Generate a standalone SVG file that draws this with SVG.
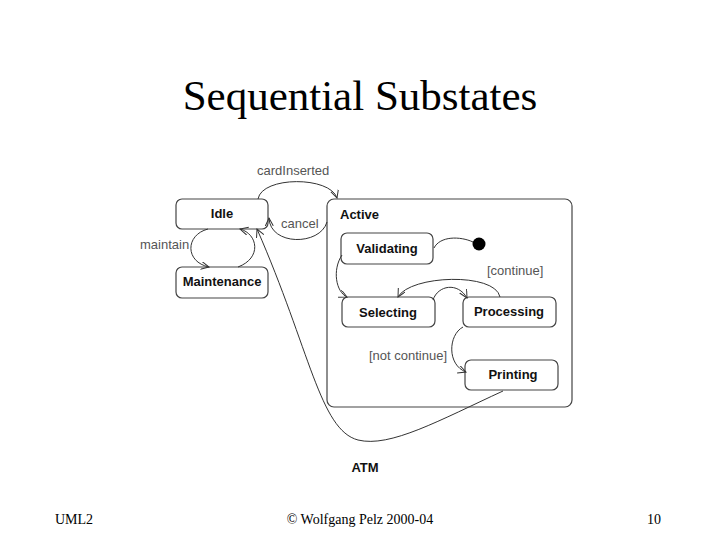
<svg xmlns="http://www.w3.org/2000/svg" width="720" height="540" viewBox="0 0 720 540">
<style>
.st{fill:#fff;stroke:#444;stroke-width:1.2}
.nm{font-family:"Liberation Sans",Arial,sans-serif;font-size:13px;font-weight:bold;fill:#111;text-anchor:middle}
.lb{font-family:"Liberation Sans",Arial,sans-serif;font-size:13px;fill:#555}
.ft{font-family:"Liberation Serif","Times New Roman",serif;font-size:14px;fill:#000}
.cn{fill:none;stroke:#333;stroke-width:1}
</style>
<defs>
<marker id="ar" markerWidth="10" markerHeight="10" refX="8" refY="4" orient="auto" markerUnits="userSpaceOnUse">
<path d="M0,0 L8,4 L0,8" fill="none" stroke="#333" stroke-width="1"/>
</marker>
</defs>
<rect width="720" height="540" fill="#fff"/>
<text x="360" y="110" text-anchor="middle" style="font-family:'Liberation Serif','Times New Roman',serif;font-size:43px;fill:#000">Sequential Substates</text>

<g id="Active"><rect class="st" x="327" y="199" width="245" height="208" rx="7"/><text x="340" y="219" class="nm" style="text-anchor:start">Active</text></g>
<g id="Idle"><rect class="st" x="176" y="199" width="92" height="30" rx="6"/><text x="222" y="218" class="nm">Idle</text></g>
<g id="Maintenance"><rect class="st" x="176" y="267" width="92" height="31" rx="6"/><text x="222" y="286" class="nm">Maintenance</text></g>
<g id="Validating"><rect class="st" x="341" y="233" width="92" height="31" rx="6"/><text x="387" y="253" class="nm">Validating</text></g>
<g id="Selecting"><rect class="st" x="342" y="297" width="93" height="30" rx="6"/><text x="388" y="317" class="nm">Selecting</text></g>
<g id="Processing"><rect class="st" x="463" y="297" width="93" height="30" rx="6"/><text x="509" y="316" class="nm">Processing</text></g>
<g id="Printing"><rect class="st" x="465" y="360" width="93" height="30" rx="6"/><text x="513" y="379" class="nm">Printing</text></g>
<g id="Initial"><circle cx="479" cy="244" r="6.5" fill="#000"/></g>

<g id="connectors">
<path class="cn" d="M258,199 C262,176 330,176 337,198" marker-end="url(#ar)"/>
<path class="cn" d="M327,222 C320,246 270,246 269,218" marker-end="url(#ar)"/>
<path class="cn" d="M208,229 C185,235 185,262 209,267" marker-end="url(#ar)"/>
<path class="cn" d="M238,267 C262,258 258,234 240,229" marker-end="url(#ar)"/>
<path class="cn" d="M503,391 C440,420 390,448 358,440 C320,430 310,350 257,229" marker-end="url(#ar)"/>
<path class="cn" d="M342,255 C332,270 336,292 347,297" marker-end="url(#ar)"/>
<path class="cn" d="M473,242 C460,236 440,236 434,248"/>
<path class="cn" d="M433,300 C438,285 458,282 467,298" marker-end="url(#ar)"/>
<path class="cn" d="M500,297 C495,272 410,275 398,297" marker-end="url(#ar)"/>
<path class="cn" d="M463,327 C448,335 447,365 466,372" marker-end="url(#ar)"/>
</g>

<g id="labels">
<text x="257" y="175" class="lb">cardInserted</text>
<text x="281" y="228" class="lb">cancel</text>
<text x="140" y="249" class="lb">maintain</text>
<text x="487" y="275" class="lb">[continue]</text>
<text x="369" y="360" class="lb">[not continue]</text>
<text x="365" y="472" class="nm">ATM</text>
</g>

<text x="55" y="524" class="ft">UML2</text>
<text x="360" y="524" class="ft" text-anchor="middle">© Wolfgang Pelz 2000-04</text>
<text x="647" y="524" class="ft">10</text>
</svg>
